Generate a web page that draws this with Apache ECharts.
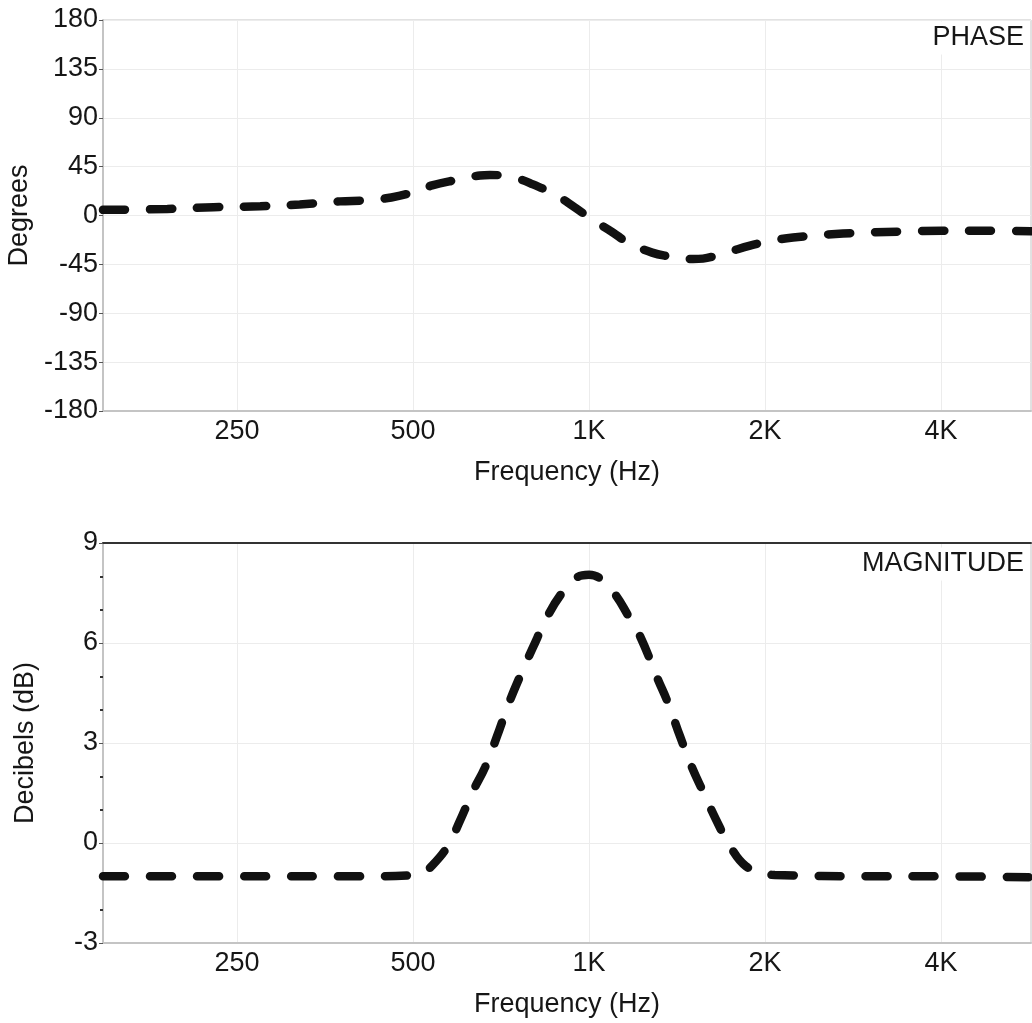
<!DOCTYPE html>
<html>
<head>
<meta charset="utf-8">
<script src="https://cdn.jsdelivr.net/npm/echarts@6/dist/echarts.min.js"></script>
<style>html,body{margin:0;padding:0;background:#fff}#c{width:1032px;height:1023px}</style>
</head>
<body>
<div id="c"></div>
<script>
// ---- data ----
const freqTicks = [250, 500, 1000, 2000, 4000];
const freqTickLabels = ['250', '500', '1K', '2K', '4K'];
const freqMin = 147.5;
const freqMax = 5700;

const phaseFreq = [147.5,190,228,274,320,375,417,459,498,539,590,651,677,705,760,802,868,946,1012,1099,1166,1282,1375,1448,1506,1566,1650,1743,1885,2063,2233,2718,3401,4012,4800,5700];
const phaseDeg  = [5.2,6.0,7.6,8.5,10.2,13.0,14.0,16.6,21.2,27.7,32.5,36.9,37.4,36.9,33.5,28.6,20.3,7.4,-3.7,-15.7,-24.9,-34.2,-37.8,-39.7,-40.1,-39.7,-37.0,-33.2,-27.7,-23.1,-20.3,-16.6,-14.8,-14.0,-14.0,-14.5];

const magFreq = [147.5,250,400,500,520,539,574,601,633,664,696,727,762,802,851,899,954,1000,1044,1108,1166,1223,1312,1365,1431,1500,1566,1649,1743,1856,2000,2079,3000,4000,5700];
const magDb   = [-1,-1,-1,-0.97,-0.88,-0.68,-0.08,0.65,1.55,2.27,3.2,4.13,5.0,5.87,6.83,7.5,7.97,8.05,7.94,7.46,6.83,6.2,4.9,4.2,3.2,2.27,1.55,0.7,-0.1,-0.7,-0.92,-0.96,-1.0,-1.0,-1.03];

const phaseTicks = [-180,-135,-90,-45,0,45,90,135,180];
const magTicks = [-3,0,3,6,9];

// ---- build ----
const L = Math.log2;
const tickPos = freqTicks.map(L);
const FONT = 'Liberation Sans, Arial, Helvetica, sans-serif';
const FS = 27;
const TXT = '#161616';
const labelFor = v => { let best = 0; tickPos.forEach((t,i)=>{ if (Math.abs(t-v) < Math.abs(tickPos[best]-v)) best = i; }); return freqTickLabels[best]; };

function xAxisCfg(gi) {
  return {
    type: 'value', gridIndex: gi, min: L(freqMin), max: L(freqMax),
    name: 'Frequency (Hz)', nameLocation: 'middle', nameGap: 48,
    nameTextStyle: { fontSize: FS, color: TXT, fontFamily: FONT },
    axisLine: { show: true, onZero: false, lineStyle: { color: '#c4c4c4', width: 2 } },
    axisTick: { show: false, customValues: tickPos },
    axisLabel: { customValues: tickPos, formatter: labelFor, fontSize: FS, color: TXT, fontFamily: FONT, margin: 7 },
    splitLine: { show: true, lineStyle: { color: '#ececec', width: 1 } }
  };
}

const option = {
  animation: false,
  backgroundColor: '#fff',
  grid: [
    { left: 103, right: 1, top: 20, height: 391, outerBoundsMode: 'none', containLabel: false, show: true, borderColor: '#c4c4c4', borderWidth: 1, backgroundColor: 'transparent' },
    { left: 103, right: 1, top: 543, height: 400, outerBoundsMode: 'none', containLabel: false, show: true, borderColor: '#c4c4c4', borderWidth: 1, backgroundColor: 'transparent' }
  ],
  xAxis: [
    xAxisCfg(0),
    xAxisCfg(1),
    { type: 'value', gridIndex: 1, position: 'top', min: L(freqMin), max: L(freqMax),
      axisLine: { show: true, onZero: false, lineStyle: { color: '#333', width: 2 } },
      axisTick: { show: false }, axisLabel: { show: false }, splitLine: { show: false } }
  ],
  yAxis: [
    { type: 'value', gridIndex: 0, min: -180, max: 180, interval: 45,
      name: 'Degrees', nameLocation: 'middle', nameGap: 69,
      nameTextStyle: { fontSize: FS, color: TXT, fontFamily: FONT },
      axisLine: { show: true, onZero: false, lineStyle: { color: '#c4c4c4', width: 2 } },
      axisTick: { show: true, length: 4, lineStyle: { color: '#555' } },
      axisLabel: { fontSize: FS, color: TXT, fontFamily: FONT, margin: 5 },
      splitLine: { show: true, lineStyle: { color: '#ececec' } } },
    { type: 'value', gridIndex: 1, min: -3, max: 9, interval: 3,
      name: 'Decibels (dB)', nameLocation: 'middle', nameGap: 64,
      nameTextStyle: { fontSize: FS, color: TXT, fontFamily: FONT },
      axisLine: { show: true, onZero: false, lineStyle: { color: '#c4c4c4', width: 2 } },
      axisTick: { show: true, length: 4, lineStyle: { color: '#555' } },
      minorTick: { show: true, splitNumber: 3, length: 3, lineStyle: { color: '#333', width: 2 } },
      axisLabel: { fontSize: FS, color: TXT, fontFamily: FONT, margin: 5 },
      splitLine: { show: true, lineStyle: { color: '#ececec' } } }
  ],
  graphic: [
    { type: 'text', x: 1024, y: 38, z: 100, style: { text: 'PHASE', font: FS + 'px ' + FONT, fill: TXT, align: 'right', verticalAlign: 'middle', backgroundColor: '#fff', padding: [2, 0, 4, 0] } },
    { type: 'text', x: 1024, y: 564, z: 100, style: { text: 'MAGNITUDE', font: FS + 'px ' + FONT, fill: TXT, align: 'right', verticalAlign: 'middle', backgroundColor: '#fff', padding: [2, 0, 4, 0] } }
  ],
  series: [
    { type: 'line', xAxisIndex: 0, yAxisIndex: 0, showSymbol: false, smooth: 0.4,
      data: phaseFreq.map((f,i) => [L(f), phaseDeg[i]]),
      lineStyle: { color: '#111', width: 8.5, type: [22, 25], cap: 'round' } },
    { type: 'line', xAxisIndex: 1, yAxisIndex: 1, showSymbol: false, smooth: 0.4,
      data: magFreq.map((f,i) => [L(f), magDb[i]]),
      lineStyle: { color: '#111', width: 8.5, type: [22, 25], cap: 'round' } }
  ]
};
echarts.init(document.getElementById('c'), null, { renderer: 'canvas' }).setOption(option);
</script>
</body>
</html>
